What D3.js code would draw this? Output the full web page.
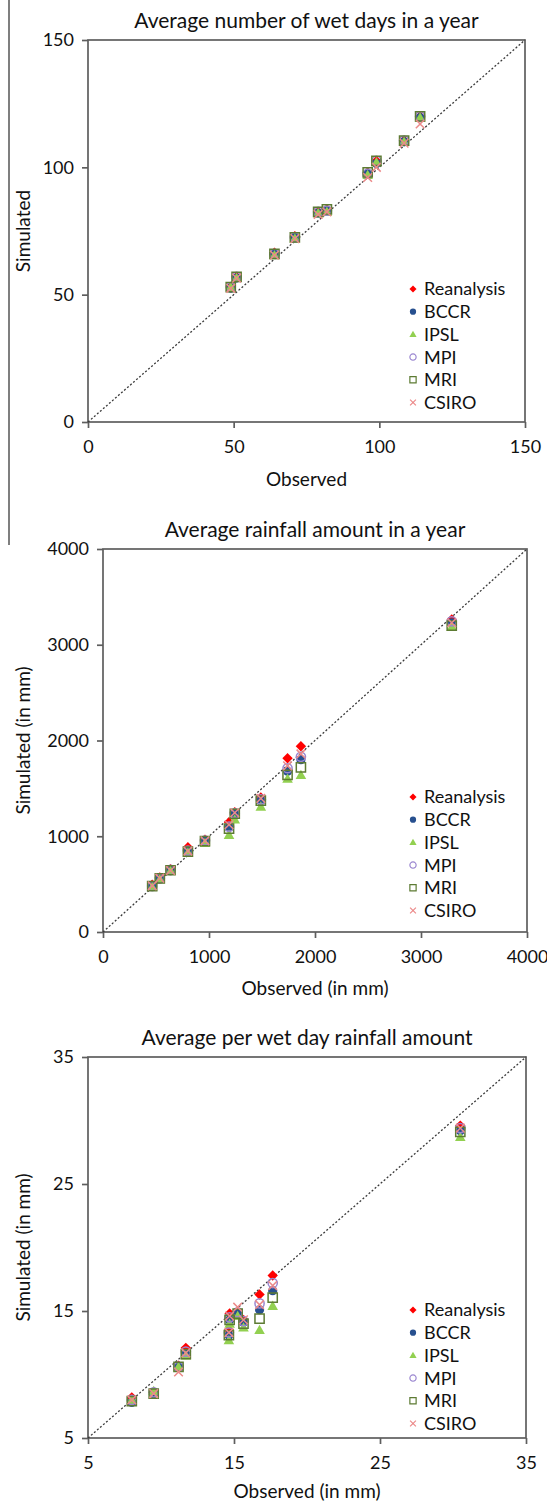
<!DOCTYPE html>
<html>
<head>
<meta charset="utf-8">
<script src="https://cdn.jsdelivr.net/npm/d3@7"></script>
<style>
  body { margin: 0; background: #fff; }
  svg { display: block; font-family: Lato, "Open Sans", sans-serif; }
  .frame { fill: none; stroke: #5e5e5e; stroke-width: 1.7; }
  .axis path { display: none; }
  .axis line { stroke: #5e5e5e; stroke-width: 1.7; }
  .axis text { font-size: 18px; fill: #111; font-family: Lato, sans-serif; }
  .title { font-size: 21px; text-anchor: middle; fill: #111; }
  .axis-title { font-size: 19px; text-anchor: middle; fill: #111; }
  .legend text { font-size: 18px; fill: #111; }
  .diag { stroke: #3a3a3a; stroke-width: 1.3; stroke-dasharray: 2,2; fill: none; }
</style>
</head>
<body>
<div id="chart"></div>
<script>
  var seriesNames = ['Reanalysis', 'BCCR', 'IPSL', 'MPI', 'MRI', 'CSIRO'];

  // average number of wet days in a year
  var wetTicks = [0, 50, 100, 150];
  var wetObserved = [49, 51, 64, 71, 79, 82, 96, 99, 108.5, 114];
  var wetSimulated = [
    [53, 57, 66.5, 73, 82.5, 83.5, 98, 102.5, 110.5, 120],   // Reanalysis
    [52.5, 56.5, 66, 72.5, 82, 83, 97.5, 101.5, 110, 119.5], // BCCR
    [53, 56.5, 65.5, 72, 82, 82.5, 97, 102, 110, 119.5],     // IPSL
    [53, 57, 66, 72.5, 82.5, 83, 97.5, 102.5, 110.5, 120],   // MPI
    [53, 57, 66, 72.5, 82.5, 83.5, 98, 102.5, 110.5, 120],   // MRI
    [52.5, 56.5, 65.5, 72, 81.5, 82.5, 96, 100, 109.5, 117]  // CSIRO
  ];

  // average rainfall amount in a year (mm)
  var rainTicks = [0, 1000, 2000, 3000, 4000];
  var rainObserved = [464, 536, 637, 801, 962, 1189, 1243, 1489, 1741, 1867, 3290];
  var rainSimulated = [
    [495, 570, 655, 885, 965, 1146, 1250, 1406, 1815, 1940, 3265], // Reanalysis
    [475, 555, 640, 845, 950, 1094, 1235, 1372, 1680, 1800, 3230], // BCCR
    [470, 550, 640, 830, 930, 1014, 1174, 1309, 1600, 1640, 3185], // IPSL
    [480, 560, 648, 850, 955, 1100, 1240, 1385, 1710, 1830, 3245], // MPI
    [479, 560, 645, 840, 950, 1080, 1235, 1372, 1640, 1720, 3200], // MRI
    [482, 562, 642, 845, 952, 1120, 1245, 1395, 1735, 1860, 3230]  // CSIRO
  ];

  // average per wet day rainfall amount (mm)
  var pwdTicks = [5, 15, 25, 35];
  var pwdObserved = [8, 9.5, 11.2, 11.7, 14.7, 14.65, 15.25, 15.65, 16.75, 17.65, 30.5];
  var pwdSimulated = [
    [8.2, 8.6, 10.7, 12.1, 14.8, 13.5, 14.9, 14.3, 16.3, 17.8, 29.6],   // Reanalysis
    [7.8, 8.5, 10.6, 11.6, 14.3, 13.1, 14.8, 14.1, 15.1, 16.6, 29.2],   // BCCR
    [8.0, 8.7, 10.6, 11.5, 14.0, 12.7, 14.6, 13.7, 13.5, 15.4, 28.7],   // IPSL
    [8.0, 8.6, 10.6, 11.8, 14.5, 13.3, 14.9, 14.2, 15.6, 17.2, 29.4],   // MPI
    [7.9, 8.5, 10.6, 11.6, 14.3, 13.1, 14.8, 14.0, 14.4, 16.05, 29.1],  // MRI
    [8.0, 8.5, 10.2, 11.7, 14.6, 13.3, 15.3, 14.3, 15.5, 17.0, 29.4]    // CSIRO
  ];

  var titles = ['Average number of wet days in a year', 'Average rainfall amount in a year', 'Average per wet day rainfall amount'];
  var xTitles = ['Observed', 'Observed (in mm)', 'Observed (in mm)'];
  var yTitles = ['Simulated', 'Simulated (in mm)', 'Simulated (in mm)'];


  var seriesStyle = [
    { type: 'diamond',  fill: '#ff0000', stroke: 'none',    r: 5.2 },
    { type: 'circle',   fill: '#27508f', stroke: 'none',    r: 4.6 },
    { type: 'triangle', fill: '#92d050', stroke: 'none',    r: 5.3 },
    { type: 'circle',   fill: 'none',    stroke: '#9a86d0', r: 4.6 },
    { type: 'square',   fill: 'none',    stroke: '#5d7b33', r: 4.6 },
    { type: 'x',        fill: 'none',    stroke: '#ec8a8a', r: 4.3 }
  ];


  var svg = d3.select('#chart')
    .append('svg')
    .attr('width', 547)
    .attr('height', 1504);

  // thin rule on the left edge of the page
  svg.append('line')
    .attr('x1', 9).attr('x2', 9)
    .attr('y1', 0).attr('y2', 545)
    .attr('stroke', '#555')
    .attr('stroke-width', 1.5);

  drawPanel( wetObserved, wetSimulated, wetTicks, getSettings('wet') );
  drawPanel( rainObserved, rainSimulated, rainTicks, getSettings('rain') );
  drawPanel( pwdObserved, pwdSimulated, pwdTicks, getSettings('pwd') );


  function getSettings( name ) {
    var all = {
      wet:  { idx: 0, left: 88,  right: 525, top: 40,   bottom: 422,  titleY: 28,   xTitleY: 486,  legendTop: 289 },
      rain: { idx: 1, left: 103, right: 527, top: 549,  bottom: 932,  titleY: 537,  xTitleY: 995,  legendTop: 797 },
      pwd:  { idx: 2, left: 88,  right: 526, top: 1057, bottom: 1438, titleY: 1045, xTitleY: 1498, legendTop: 1310 }
    };
    var s = all[name];
    s.legendX = 413;
    s.legendStep = 22.7;
    return s;
  }


  function markerPath( type, r ) {
    if ( type === 'diamond' ) return 'M0,' + (-r) + 'L' + r + ',0L0,' + r + 'L' + (-r) + ',0Z';
    if ( type === 'triangle' ) return 'M0,' + (-r) + 'L' + r + ',' + (r * 0.75) + 'L' + (-r) + ',' + (r * 0.75) + 'Z';
    if ( type === 'square' ) return 'M' + (-r) + ',' + (-r) + 'h' + (2 * r) + 'v' + (2 * r) + 'h' + (-2 * r) + 'Z';
    if ( type === 'x' ) return 'M' + (-r) + ',' + (-r) + 'L' + r + ',' + r + 'M' + r + ',' + (-r) + 'L' + (-r) + ',' + r;
    return 'M' + r + ',0A' + r + ',' + r + ' 0 1,1 ' + (-r) + ',0A' + r + ',' + r + ' 0 1,1 ' + r + ',0Z';
  }


  function drawPanel( observed, simulated, ticks, settings ) {
    var domain = [ ticks[0], ticks[ticks.length - 1] ];

    var x = d3.scaleLinear().domain( domain ).range([ settings.left, settings.right ]);
    var y = d3.scaleLinear().domain( domain ).range([ settings.bottom, settings.top ]);

    var g = svg.append('g');

    g.append('text')
      .classed('title', true)
      .attr('x', (settings.left + settings.right) / 2 )
      .attr('y', settings.titleY )
      .text( titles[settings.idx] );

    g.append('g')
      .classed('axis', true)
      .attr('transform', 'translate(0,' + settings.bottom + ')')
      .call( d3.axisBottom( x ).tickValues( ticks ).tickSize( 6 ).tickPadding( 12 ).tickFormat( d3.format('d') ) );

    g.append('g')
      .classed('axis', true)
      .attr('transform', 'translate(' + settings.left + ',0)')
      .call( d3.axisLeft( y ).tickValues( ticks ).tickSize( 6 ).tickPadding( 8 ).tickFormat( d3.format('d') ) );

    g.append('rect')
      .classed('frame', true)
      .attr('x', settings.left )
      .attr('y', settings.top )
      .attr('width', settings.right - settings.left )
      .attr('height', settings.bottom - settings.top );

    g.append('line')
      .classed('diag', true)
      .attr('x1', x( domain[0] )).attr('y1', y( domain[0] ))
      .attr('x2', x( domain[1] )).attr('y2', y( domain[1] ));

    g.append('text')
      .classed('axis-title', true)
      .attr('x', (settings.left + settings.right) / 2 )
      .attr('y', settings.xTitleY )
      .text( xTitles[settings.idx] );

    g.append('text')
      .classed('axis-title', true)
      .attr('transform', 'translate(30,' + ((settings.top + settings.bottom) / 2) + ') rotate(-90)')
      .text( yTitles[settings.idx] );

    // one group per series, drawn in legend order so the last one lands on top
    simulated.forEach( function ( values, s ) {
      var st = seriesStyle[s];
      g.append('g')
        .selectAll('path')
        .data( values )
        .enter()
        .append('path')
        .attr('transform', function ( d, i ) { return 'translate(' + x( observed[i] ) + ',' + y( d ) + ')'; })
        .attr('d', markerPath( st.type, st.r ))
        .style('fill', st.fill )
        .style('stroke', st.stroke )
        .style('stroke-width', 1.5 );
    });

    var legend = g.append('g')
      .classed('legend', true)
      .selectAll('.item')
      .data( seriesNames )
      .enter()
      .append('g')
      .attr('transform', function ( d, i ) { return 'translate(' + settings.legendX + ',' + (settings.legendTop + i * settings.legendStep) + ')'; });

    legend.append('path')
      .attr('d', function ( d, i ) { return markerPath( seriesStyle[i].type, seriesStyle[i].r * 0.68 ); })
      .style('fill', function ( d, i ) { return seriesStyle[i].fill; })
      .style('stroke', function ( d, i ) { return seriesStyle[i].stroke; })
      .style('stroke-width', 1.2 );

    legend.append('text')
      .attr('x', 11 )
      .attr('dy', '0.36em')
      .text( function ( d ) { return d; });
  }
</script>
</body>
</html>
